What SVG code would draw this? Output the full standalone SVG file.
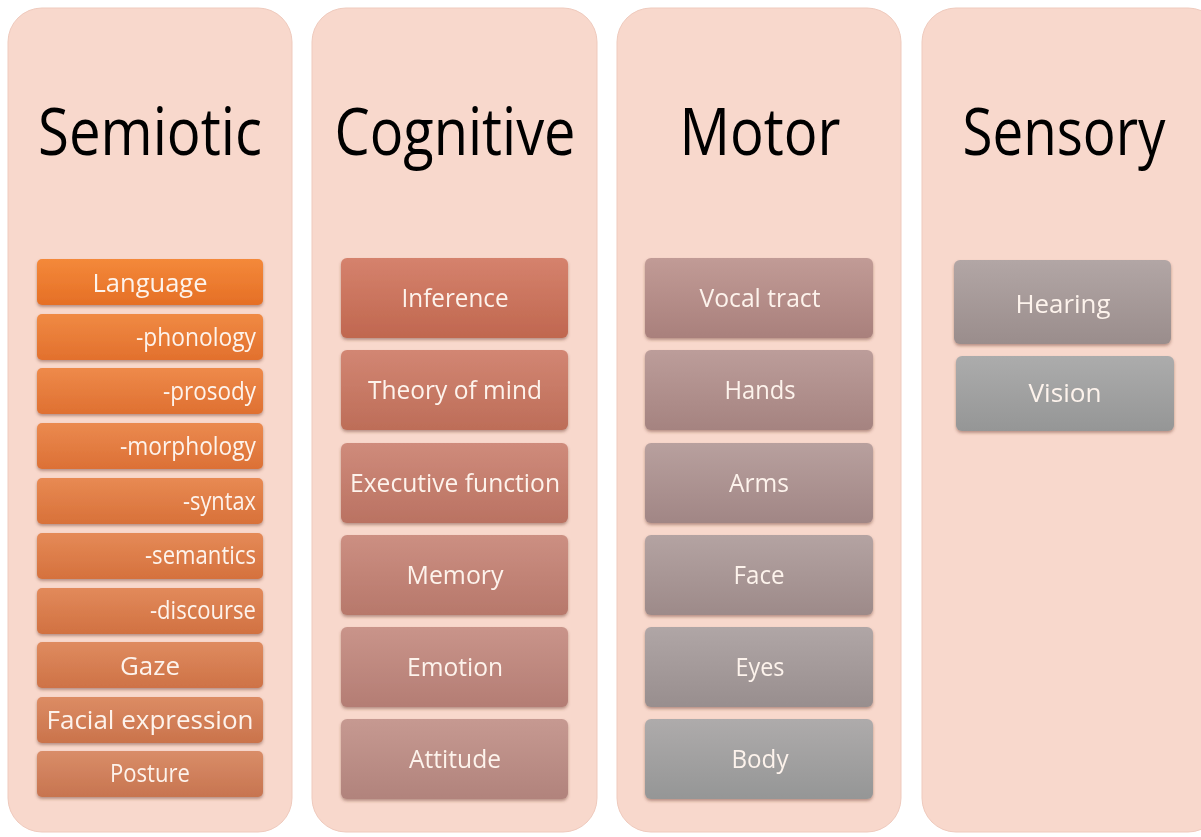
<svg xmlns="http://www.w3.org/2000/svg" width="1201" height="837" viewBox="0 0 1201 837">
  <style>
    .panel { fill: #f8d8cc; stroke: #efcabd; stroke-width: 1; }
    .title { font-family: "Open Sans", "Liberation Sans", sans-serif; font-size: 66px; fill: #000; }
    .lbl { font-family: "Open Sans", "Liberation Sans", sans-serif; font-size: 26px; fill: #fdf3ec; }
    .box { filter: url(#shadow); }
  </style>
  <defs>
    <filter id="shadow" x="-5%" y="-10%" width="110%" height="130%">
      <feDropShadow dx="0" dy="2" stdDeviation="1.5" flood-color="#6a3a2a" flood-opacity="0.45"/>
    </filter>
    <!-- box fills, top lighter to bottom darker -->
    <linearGradient id="g1" x1="0" y1="0" x2="0" y2="1"><stop offset="0" stop-color="#f4893a"/><stop offset="1" stop-color="#e56f26"/></linearGradient>
    <linearGradient id="g2" x1="0" y1="0" x2="0" y2="1"><stop offset="0" stop-color="#f08a44"/><stop offset="1" stop-color="#e2702d"/></linearGradient>
    <linearGradient id="g3" x1="0" y1="0" x2="0" y2="1"><stop offset="0" stop-color="#ee8a4a"/><stop offset="1" stop-color="#df7031"/></linearGradient>
    <linearGradient id="g4" x1="0" y1="0" x2="0" y2="1"><stop offset="0" stop-color="#eb8a4f"/><stop offset="1" stop-color="#dc7035"/></linearGradient>
    <linearGradient id="g5" x1="0" y1="0" x2="0" y2="1"><stop offset="0" stop-color="#e88a53"/><stop offset="1" stop-color="#d87139"/></linearGradient>
    <linearGradient id="g6" x1="0" y1="0" x2="0" y2="1"><stop offset="0" stop-color="#e58a57"/><stop offset="1" stop-color="#d5713d"/></linearGradient>
    <linearGradient id="g7" x1="0" y1="0" x2="0" y2="1"><stop offset="0" stop-color="#e28a5b"/><stop offset="1" stop-color="#d17141"/></linearGradient>
    <linearGradient id="g8" x1="0" y1="0" x2="0" y2="1"><stop offset="0" stop-color="#df8b5f"/><stop offset="1" stop-color="#ce7246"/></linearGradient>
    <linearGradient id="g9" x1="0" y1="0" x2="0" y2="1"><stop offset="0" stop-color="#dc8c64"/><stop offset="1" stop-color="#ca734b"/></linearGradient>
    <linearGradient id="g10" x1="0" y1="0" x2="0" y2="1"><stop offset="0" stop-color="#d98d68"/><stop offset="1" stop-color="#c77450"/></linearGradient>
    <linearGradient id="c1" x1="0" y1="0" x2="0" y2="1"><stop offset="0" stop-color="#d5826d"/><stop offset="1" stop-color="#c0674f"/></linearGradient>
    <linearGradient id="c2" x1="0" y1="0" x2="0" y2="1"><stop offset="0" stop-color="#d28673"/><stop offset="1" stop-color="#bd6d58"/></linearGradient>
    <linearGradient id="c3" x1="0" y1="0" x2="0" y2="1"><stop offset="0" stop-color="#cf8b7b"/><stop offset="1" stop-color="#ba7262"/></linearGradient>
    <linearGradient id="c4" x1="0" y1="0" x2="0" y2="1"><stop offset="0" stop-color="#cc8f82"/><stop offset="1" stop-color="#b7786b"/></linearGradient>
    <linearGradient id="c5" x1="0" y1="0" x2="0" y2="1"><stop offset="0" stop-color="#c9948a"/><stop offset="1" stop-color="#b47d74"/></linearGradient>
    <linearGradient id="c6" x1="0" y1="0" x2="0" y2="1"><stop offset="0" stop-color="#c69991"/><stop offset="1" stop-color="#b1837c"/></linearGradient>
    <linearGradient id="m1" x1="0" y1="0" x2="0" y2="1"><stop offset="0" stop-color="#c19b96"/><stop offset="1" stop-color="#a9807c"/></linearGradient>
    <linearGradient id="m2" x1="0" y1="0" x2="0" y2="1"><stop offset="0" stop-color="#bc9d9a"/><stop offset="1" stop-color="#a58380"/></linearGradient>
    <linearGradient id="m3" x1="0" y1="0" x2="0" y2="1"><stop offset="0" stop-color="#b8a09e"/><stop offset="1" stop-color="#a18685"/></linearGradient>
    <linearGradient id="m4" x1="0" y1="0" x2="0" y2="1"><stop offset="0" stop-color="#b4a3a2"/><stop offset="1" stop-color="#9d8a89"/></linearGradient>
    <linearGradient id="m5" x1="0" y1="0" x2="0" y2="1"><stop offset="0" stop-color="#b0a6a6"/><stop offset="1" stop-color="#988e8e"/></linearGradient>
    <linearGradient id="m6" x1="0" y1="0" x2="0" y2="1"><stop offset="0" stop-color="#aeabab"/><stop offset="1" stop-color="#959696"/></linearGradient>
    <linearGradient id="s1" x1="0" y1="0" x2="0" y2="1"><stop offset="0" stop-color="#b2a6a5"/><stop offset="1" stop-color="#9a8d8c"/></linearGradient>
    <linearGradient id="s2" x1="0" y1="0" x2="0" y2="1"><stop offset="0" stop-color="#acacac"/><stop offset="1" stop-color="#959696"/></linearGradient>
  </defs>

  <rect width="1201" height="837" fill="#ffffff"/>

  <!-- Semiotic column -->
  <g id="semiotic">
    <rect class="panel" x="8" y="8" width="284" height="824" rx="34"/>
    <text class="title" x="150" y="155" text-anchor="middle" textLength="224" lengthAdjust="spacingAndGlyphs">Semiotic</text>
    <g id="language" class="box"><rect x="37" y="259" width="226" height="46" rx="5" fill="url(#g1)"/><text class="lbl" x="150" y="292" text-anchor="middle" textLength="115" lengthAdjust="spacingAndGlyphs">Language</text></g>
    <g id="phonology" class="box"><rect x="37" y="314" width="226" height="46" rx="5" fill="url(#g2)"/><text class="lbl" x="256" y="346" text-anchor="end" textLength="120" lengthAdjust="spacingAndGlyphs">-phonology</text></g>
    <g id="prosody" class="box"><rect x="37" y="368" width="226" height="46" rx="5" fill="url(#g3)"/><text class="lbl" x="256" y="400" text-anchor="end" textLength="93" lengthAdjust="spacingAndGlyphs">-prosody</text></g>
    <g id="morphology" class="box"><rect x="37" y="423" width="226" height="46" rx="5" fill="url(#g4)"/><text class="lbl" x="256" y="455" text-anchor="end" textLength="136" lengthAdjust="spacingAndGlyphs">-morphology</text></g>
    <g id="syntax" class="box"><rect x="37" y="478" width="226" height="46" rx="5" fill="url(#g5)"/><text class="lbl" x="256" y="510" text-anchor="end" textLength="73" lengthAdjust="spacingAndGlyphs">-syntax</text></g>
    <g id="semantics" class="box"><rect x="37" y="533" width="226" height="46" rx="5" fill="url(#g6)"/><text class="lbl" x="256" y="564" text-anchor="end" textLength="111" lengthAdjust="spacingAndGlyphs">-semantics</text></g>
    <g id="discourse" class="box"><rect x="37" y="588" width="226" height="46" rx="5" fill="url(#g7)"/><text class="lbl" x="256" y="619" text-anchor="end" textLength="106" lengthAdjust="spacingAndGlyphs">-discourse</text></g>
    <g id="gaze" class="box"><rect x="37" y="642" width="226" height="46" rx="5" fill="url(#g8)"/><text class="lbl" x="150" y="675" text-anchor="middle" textLength="60" lengthAdjust="spacingAndGlyphs">Gaze</text></g>
    <g id="facial-expression" class="box"><rect x="37" y="697" width="226" height="46" rx="5" fill="url(#g9)"/><text class="lbl" x="150" y="729" text-anchor="middle" textLength="207" lengthAdjust="spacingAndGlyphs">Facial expression</text></g>
    <g id="posture" class="box"><rect x="37" y="751" width="226" height="46" rx="5" fill="url(#g10)"/><text class="lbl" x="150" y="782" text-anchor="middle" font-size="23" textLength="80" lengthAdjust="spacingAndGlyphs">Posture</text></g>
  </g>

  <!-- Cognitive column -->
  <g id="cognitive">
    <rect class="panel" x="312" y="8" width="285" height="824" rx="34"/>
    <text class="title" x="455" y="155" text-anchor="middle" textLength="241" lengthAdjust="spacingAndGlyphs">Cognitive</text>
    <g id="inference" class="box"><rect x="341" y="258" width="227" height="80" rx="6" fill="url(#c1)"/><text class="lbl" x="455" y="307" text-anchor="middle" textLength="107" lengthAdjust="spacingAndGlyphs">Inference</text></g>
    <g id="theory-of-mind" class="box"><rect x="341" y="350" width="227" height="80" rx="6" fill="url(#c2)"/><text class="lbl" x="455" y="399" text-anchor="middle" textLength="174" lengthAdjust="spacingAndGlyphs">Theory of mind</text></g>
    <g id="executive-function" class="box"><rect x="341" y="443" width="227" height="80" rx="6" fill="url(#c3)"/><text class="lbl" x="455" y="492" text-anchor="middle" textLength="210" lengthAdjust="spacingAndGlyphs">Executive function</text></g>
    <g id="memory" class="box"><rect x="341" y="535" width="227" height="80" rx="6" fill="url(#c4)"/><text class="lbl" x="455" y="584" text-anchor="middle" textLength="97" lengthAdjust="spacingAndGlyphs">Memory</text></g>
    <g id="emotion" class="box"><rect x="341" y="627" width="227" height="80" rx="6" fill="url(#c5)"/><text class="lbl" x="455" y="676" text-anchor="middle" textLength="96" lengthAdjust="spacingAndGlyphs">Emotion</text></g>
    <g id="attitude" class="box"><rect x="341" y="719" width="227" height="80" rx="6" fill="url(#c6)"/><text class="lbl" x="455" y="768" text-anchor="middle" textLength="92" lengthAdjust="spacingAndGlyphs">Attitude</text></g>
  </g>

  <!-- Motor column -->
  <g id="motor">
    <rect class="panel" x="617" y="8" width="284" height="824" rx="34"/>
    <text class="title" x="760" y="155" text-anchor="middle" textLength="161" lengthAdjust="spacingAndGlyphs">Motor</text>
    <g id="vocal-tract" class="box"><rect x="645" y="258" width="228" height="80" rx="6" fill="url(#m1)"/><text class="lbl" x="760" y="307" text-anchor="middle" textLength="121" lengthAdjust="spacingAndGlyphs">Vocal tract</text></g>
    <g id="hands" class="box"><rect x="645" y="350" width="228" height="80" rx="6" fill="url(#m2)"/><text class="lbl" x="760" y="399" text-anchor="middle" textLength="71" lengthAdjust="spacingAndGlyphs">Hands</text></g>
    <g id="arms" class="box"><rect x="645" y="443" width="228" height="80" rx="6" fill="url(#m3)"/><text class="lbl" x="759" y="492" text-anchor="middle" textLength="60" lengthAdjust="spacingAndGlyphs">Arms</text></g>
    <g id="face" class="box"><rect x="645" y="535" width="228" height="80" rx="6" fill="url(#m4)"/><text class="lbl" x="759" y="584" text-anchor="middle" textLength="51" lengthAdjust="spacingAndGlyphs">Face</text></g>
    <g id="eyes" class="box"><rect x="645" y="627" width="228" height="80" rx="6" fill="url(#m5)"/><text class="lbl" x="760" y="676" text-anchor="middle" textLength="49" lengthAdjust="spacingAndGlyphs">Eyes</text></g>
    <g id="body" class="box"><rect x="645" y="719" width="228" height="80" rx="6" fill="url(#m6)"/><text class="lbl" x="760" y="768" text-anchor="middle" textLength="57" lengthAdjust="spacingAndGlyphs">Body</text></g>
  </g>

  <!-- Sensory column -->
  <g id="sensory">
    <rect class="panel" x="922" y="8" width="300" height="824" rx="34"/>
    <text class="title" x="1064" y="155" text-anchor="middle" textLength="203" lengthAdjust="spacingAndGlyphs">Sensory</text>
    <g id="hearing" class="box"><rect x="954" y="260" width="217" height="84" rx="6" fill="url(#s1)"/><text class="lbl" x="1063" y="313" text-anchor="middle" font-size="28" textLength="95" lengthAdjust="spacingAndGlyphs">Hearing</text></g>
    <g id="vision" class="box"><rect x="956" y="356" width="218" height="75" rx="6" fill="url(#s2)"/><text class="lbl" x="1065" y="402" text-anchor="middle" font-size="28" textLength="73" lengthAdjust="spacingAndGlyphs">Vision</text></g>
  </g>

  <!-- no connectors in this diagram -->
  <g id="connectors"/>
</svg>
